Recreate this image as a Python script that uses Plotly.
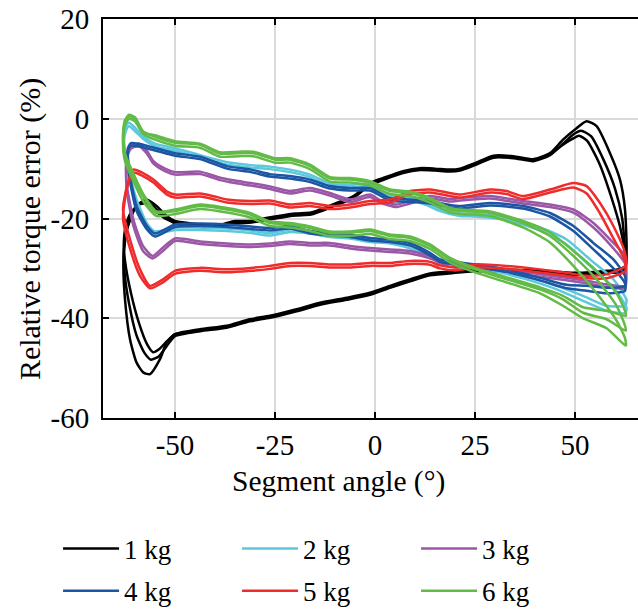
import plotly.graph_objects as go

# ---------------- data ----------------
masses = ["1 kg", "2 kg", "3 kg", "4 kg", "5 kg", "6 kg"]
colors = ["#000000", "#5BC8DC", "#9B57A6", "#1B55A3", "#EF2B2B", "#62BB46"]

x_ticks = [-50, -25, 0, 25, 50]
x_ticktext = ["-50", "-25", "0", "25", "50"]
y_ticks = [-60, -40, -20, 0, 20]
y_ticktext = ["-60", "-40", "-20", "0", "20"]

# 1 kg, three cycles (closed loops)
x_1kg_c1 = [-62.5, -61.2, -59.6, -57.1, -54.6, -52.1, -50, -46, -42, -38.75, -35, -31, -28, -25, -20, -16, -13.75, -10, -5.4, -1.25,
            2, 7, 11.25, 15, 18.75, 21.25, 25, 29.6, 34.6, 39.6, 43.75, 47, 50.4, 52.9, 55.4, 58.75, 61.25, 62.5, 62.9, 62.5,
            57.9, 50.4, 41.25, 32.9, 25, 20, 13.75, 8.75, 3.75, -1.25, -7.1, -13.75, -19.6, -26.25, -31.25, -37.1, -43.75, -50, -52.1, -53.75,
            -56.25, -57.9, -59.6, -61.25, -62.5, -62.9, -62.5]
y_1kg_c1 = [-24, -20.2, -17.5, -16.2, -17.5, -19.5, -20.5, -21, -21.3, -21.2, -20.5, -20.5, -20, -19.6, -19, -18.8, -18.2, -17, -15.5, -12.9,
            -11.9, -10.5, -9.9, -10, -10.2, -10, -8.9, -7.4, -7.5, -8.1, -6.9, -4.2, -1.9, -0.5, -1.5, -6.9, -12.2, -18.2, -26.2, -30.2,
            -30.5, -30.9, -30.5, -30.2, -30.2, -30.5, -31, -32.2, -33.5, -34.9, -35.9, -36.9, -38.2, -39.5, -40.2, -41.5, -42.2, -43.2, -44.9, -48.2,
            -51.2, -50.9, -48.9, -44.2, -36.2, -29.5, -24]
x_1kg_c2 = [-62.8, -62, -60.5, -58.5, -56, -53.5, -50, -46, -42, -38.75, -35, -31, -28, -25, -20, -16, -13.75, -10, -5.4, -1.25,
            2, 7, 11.25, 15, 18.75, 21.25, 25, 29.6, 34.6, 39.6, 43.75, 47, 49.5, 51.5, 54, 57, 60, 61.8, 62.5, 62.3,
            57.9, 50.4, 41.25, 32.9, 25, 20, 13.75, 8.75, 3.75, -1.25, -7.1, -13.75, -19.6, -26.25, -31.25, -37.1, -43.75, -50, -52, -54,
            -56, -57.6, -59.6, -61.5, -62.6, -62.8]
y_1kg_c2 = [-27, -22, -18.5, -16.8, -17.2, -19, -21, -21.5, -21.8, -21.6, -21, -20.8, -20.4, -20, -19.4, -19.2, -18.6, -17.4, -15.9, -13.3,
            -12.3, -10.9, -10.3, -10.4, -10.6, -10.4, -9.3, -7.8, -7.9, -8.5, -7.3, -5, -3.2, -2.4, -3.5, -8, -14, -20, -27, -30.6,
            -30.9, -31.3, -30.9, -30.6, -30.6, -30.9, -31.4, -32.6, -33.9, -35.3, -36.3, -37.3, -38.6, -39.9, -40.6, -41.9, -42.6, -43.6, -45.5, -47.6,
            -48.3, -47, -43.5, -37, -31, -27]
x_1kg_c3 = [-62.8, -62.3, -61, -59, -57, -55, -52.5, -50, -46, -42, -38.75, -35, -31, -28, -25, -20, -16, -13.75, -10, -5.4,
            -1.25, 2, 7, 11.25, 15, 18.75, 21.25, 25, 29.6, 34.6, 39.6, 43.75, 47, 49, 51, 53, 56, 59, 61.5, 62.6,
            57.9, 50.4, 41.25, 32.9, 25, 20, 13.75, 8.75, 3.75, -1.25, -7.1, -13.75, -19.6, -26.25, -31.25, -37.1, -43.75, -50, -52, -54,
            -55.5, -57, -59, -61, -62.5, -62.8]
y_1kg_c3 = [-25, -21.5, -18.8, -17.2, -17, -18.4, -20, -20.8, -21.2, -21.5, -21.4, -20.8, -20.7, -20.3, -19.9, -19.3, -19, -18.4, -17.2, -15.7,
            -13.1, -12.1, -10.7, -10.1, -10.2, -10.4, -10.2, -9.1, -7.6, -7.7, -8.3, -7.1, -5.2, -4.2, -3.4, -4.4, -8.8, -15.5, -22.5, -29.5,
            -30.7, -31.1, -30.7, -30.4, -30.4, -30.7, -31.2, -32.4, -33.7, -35.1, -36.1, -37.1, -38.4, -39.7, -40.4, -41.7, -42.4, -43.2, -44.6, -46.2,
            -46.8, -45.2, -41, -35, -28.5, -25]

# 2 kg
x_2kg_up = [-62.8, -62.3, -61.5, -60, -58, -55, -50, -43.75, -37, -31, -26.25, -21.25, -16.25, -11.25, -6.25, -1.25, 3.75, 8.75, 12.9, 16.25,
            21.25, 25, 32.9, 41.25, 47.9, 53.75, 59.6, 62.9]
x_2kg_lo = [62.5, 57.9, 52, 45.4, 37, 28.75, 21.25, 16.25, 13.75, 8.75, 3.75, -1.25, -6.25, -11.25, -16.25, -21.25, -26.25, -31, -37, -43.75,
            -50, -55, -57, -59.6, -61.7, -62.8]
y_2kg_up_c1 = [-4, -1.5, -0.8, -1.8, -3.5, -5, -5.9, -7.3, -8.7, -9.3, -9.6, -10.2, -11.2, -13, -13.3, -13, -15.3, -15.8, -16.8, -18,
               -19, -19.1, -19.8, -21.8, -24.2, -28.2, -32.2, -36.4]
y_2kg_lo_c1 = [-37.5, -37.5, -35.5, -33.5, -31.5, -29.9, -28.9, -28.2, -27.5, -25.5, -24.5, -24.2, -23.5, -23.2, -22.5, -22.2, -22.9, -22.4, -22, -21.8,
               -21.8, -22.6, -21, -16.2, -9.5, -4]
y_2kg_up_c2 = [-5, -2.5, -1.5, -2.5, -4, -5.5, -6.4, -7.8, -9.2, -9.8, -10.1, -10.7, -11.7, -13.5, -13.8, -13.5, -15.8, -16.3, -17.3, -18.5,
               -19.5, -19.6, -20.3, -22.4, -25.2, -29.5, -33.8, -38]
y_2kg_lo_c2 = [-39, -38.5, -36.5, -34.2, -32, -30.4, -29.4, -28.7, -28, -26, -25, -24.7, -24, -23.7, -23, -22.7, -23.4, -22.9, -22.5, -22.3,
               -22.3, -23, -21.8, -17.5, -11, -5]

# 3 kg
x_3kg_up = [-62.1, -61, -59, -57, -55.4, -52.5, -50, -43.75, -38.75, -35, -31, -26.25, -21.25, -16.25, -11.25, -6.25, -1.25, 1.25, 5.4, 8.75,
            13.75, 18.75, 21.25, 28.75, 37, 43.75, 49.6, 54.6, 59.6, 62.5]
x_3kg_lo = [62.8, 62.5, 57.9, 52.9, 47.9, 41.25, 32.9, 25, 18.75, 13.75, 8.75, 3.75, -1.25, -6.25, -11.25, -16.25, -21.25, -26.25, -31, -37,
            -43.75, -50, -53, -55.6, -58, -60.4, -62.1, -62.1]
y_3kg_up_c1 = [-7.5, -5.5, -5, -6.5, -8.5, -10, -10.7, -10.6, -11.8, -12.4, -12.9, -13.6, -14.5, -13.9, -14.9, -16.2, -15.2, -16.3, -17.2, -16.5,
               -15.5, -16.1, -15.9, -15.5, -16.5, -17.2, -18.2, -20.9, -24.9, -27.5]
y_3kg_lo_c1 = [-31, -33.5, -33.2, -32.5, -31.9, -31.2, -30.2, -29.2, -29.2, -27.5, -26.5, -26.2, -25.9, -25.5, -24.9, -24.9, -24.6, -25, -25.2, -25,
               -24.6, -24, -25.8, -27.5, -25.5, -20.2, -12.9, -7.5]
y_3kg_up_c2 = [-8, -6, -5.5, -7, -9, -10.5, -11.2, -11.1, -12.3, -12.9, -13.4, -14.1, -15, -14.4, -15.4, -16.7, -15.7, -16.8, -17.7, -17,
               -16, -16.6, -16.4, -16, -17, -17.7, -18.8, -21.8, -26, -29]
y_3kg_lo_c2 = [-32, -34, -33.7, -33, -32.4, -31.7, -30.7, -29.7, -29.7, -28, -27, -26.7, -26.4, -26, -25.4, -25.4, -25.1, -25.5, -25.7, -25.5,
               -25.1, -24.5, -26.5, -28, -26.5, -21.5, -14, -8]

# 4 kg
x_4kg_up = [-61.8, -61, -58, -56.25, -50, -43.75, -37, -31, -26.25, -21.25, -16.25, -11.25, -6.25, -1.25, 3.75, 8.75, 13.75, 18.75, 21.25, 28.75,
            37, 43.75, 49.6, 54.6, 59.6, 62.5]
x_4kg_lo = [62.5, 57.9, 52.9, 47.9, 41.25, 32.9, 25, 16.25, 13.75, 8.75, 3.75, -1.25, -6.25, -11.25, -16.25, -21.25, -26.25, -31, -37, -43.75,
            -50, -55, -57, -59.6, -61.25, -61.8]
y_4kg_up_c1 = [-6, -4.9, -5.2, -5.6, -6.9, -7.6, -9.5, -10.2, -11.1, -11.5, -12.2, -13.5, -13.9, -13.9, -15.9, -16.2, -16.5, -17.3, -17.5, -16.9,
               -17.5, -18.9, -21.5, -24.9, -28.2, -31.5]
y_4kg_lo_c1 = [-33.5, -33.9, -33.5, -33.3, -31.9, -30.2, -29.2, -28.2, -26.9, -24.9, -24.2, -23.9, -23.2, -22.9, -22.5, -21.5, -21.9, -21.6, -21.2, -21,
               -21.2, -23, -21.5, -17.5, -11.5, -6]
y_4kg_up_c2 = [-6.5, -5.4, -5.7, -6.1, -7.4, -8.1, -10, -10.7, -11.6, -12, -12.7, -14, -14.4, -14.4, -16.4, -16.7, -17, -17.8, -18, -17.4,
               -18, -19.6, -22.5, -26.2, -30, -33]
y_4kg_lo_c2 = [-34.5, -35, -34.5, -34, -32.4, -30.7, -29.7, -28.7, -27.4, -25.4, -24.7, -24.4, -23.7, -23.4, -23, -22, -22.4, -22.1, -21.7, -21.5,
               -21.7, -23.6, -22.2, -18.5, -12.5, -6.5]

# 5 kg
x_5kg_up = [-62, -60.4, -58, -55.4, -52, -50, -43.75, -40, -37, -31, -26.25, -21.25, -16.25, -11.25, -6.25, -1.25, 3.75, 8.75, 13.75, 18.75,
            21.25, 28.75, 32.9, 37, 43.75, 49.6, 52.9, 56.25, 59.6, 62.5]
x_5kg_lo = [62.6, 57.9, 52.9, 47.9, 41.25, 32.9, 25, 20.4, 16.25, 13.75, 8.75, 3.75, -1.25, -6.25, -11.25, -16.25, -21.25, -26.25, -31, -37,
            -43.75, -50, -53, -56.25, -58.75, -61.25, -63, -62]
y_5kg_up_c1 = [-13.5, -10.2, -10.9, -12.2, -14.6, -15.2, -15, -15.6, -16.2, -16.5, -16.4, -17.2, -16.9, -17.5, -17.2, -16.5, -16.2, -14.5, -14.2, -14.9,
               -15.2, -14.2, -14.5, -15.5, -14.2, -12.9, -13.5, -16.9, -21.5, -26.9]
y_5kg_lo_c1 = [-29.5, -31.2, -31.5, -30.9, -30.2, -29.5, -29.2, -29.8, -29.4, -28.7, -28.5, -28.9, -28.9, -29.2, -29.2, -28.9, -28.9, -29.5, -29.9, -30.2,
               -29.9, -30.5, -32.2, -33.5, -30.2, -24.2, -18.2, -13.5]
y_5kg_up_c2 = [-14, -10.8, -11.5, -12.8, -15.2, -15.8, -15.6, -16.2, -16.8, -17.1, -17, -17.8, -17.5, -18.1, -17.8, -17.1, -16.8, -15.1, -14.8, -15.5,
               -15.8, -14.8, -15.1, -16.1, -14.8, -13.8, -15, -19, -24, -28.5]
y_5kg_lo_c2 = [-30.5, -32, -32, -31.5, -30.8, -30.1, -29.8, -30.4, -30, -29.3, -29.1, -29.5, -29.5, -29.8, -29.8, -29.5, -29.5, -30.1, -30.5, -30.8,
               -30.5, -31.1, -32.8, -34, -31.5, -26, -20, -14]

# 6 kg
x_6kg_up = [-63, -62.6, -61.5, -60, -58, -55, -50, -43.75, -38.75, -34, -30.4, -25, -21.25, -16.25, -11.25, -6.25, -1.25, 3.75, 8.75, 13.75,
            18.75, 21.25, 28.75, 37, 43.75, 49.6, 55.4, 60.4, 62.5]
x_6kg_lo = [62.7, 57.9, 52, 47, 41.25, 32.9, 25, 18.75, 13.75, 8.75, 3.75, -1.25, -6.25, -11.25, -16.25, -21.25, -26.25, -31.25, -37, -43.75,
            -50, -54.6, -58, -60.4, -62.5, -63]
y_6kg_up_c1 = [-4, -0.5, 0.8, 0.3, -2.5, -3.6, -4.8, -5.2, -7, -6.9, -6.9, -8.2, -8.2, -9.5, -12, -12.2, -12.8, -14.5, -14.9, -16.2,
               -18.2, -18.5, -18.9, -20.9, -23.5, -27.5, -32.2, -37.5, -41.5]
y_6kg_lo_c1 = [-42.5, -40.2, -38.9, -36.2, -34.2, -32.2, -30.2, -28.2, -25.5, -23.9, -23.5, -22.5, -22.9, -22.9, -21.9, -21.2, -20.9, -19.2, -18.2, -17.5,
               -18.5, -18.9, -15.5, -11.5, -7.5, -4]
y_6kg_up_c2 = [-5, -1.5, 0, -0.5, -3, -4.2, -5.4, -5.8, -7.6, -7.5, -7.5, -8.8, -8.8, -10.1, -12.6, -12.8, -13.4, -15.1, -15.5, -16.8,
               -18.8, -19.1, -19.5, -21.8, -24.8, -29.5, -35, -40.5, -44]
y_6kg_lo_c2 = [-45.5, -42, -40, -37.5, -35, -32.8, -30.8, -28.8, -26.1, -24.5, -24.1, -23.1, -23.5, -23.5, -22.5, -21.8, -21.5, -19.8, -18.8, -18.1,
               -19.1, -19.5, -16.5, -12.5, -8.5, -5]
y_6kg_up_c3 = [-3.5, -1, 0.5, 0, -2.8, -3.3, -4.5, -5, -6.7, -6.6, -6.6, -7.9, -7.9, -9.2, -11.7, -11.9, -12.5, -14.2, -14.6, -15.9,
               -17.9, -18.2, -18.6, -20.5, -22.8, -26.5, -30.5, -35, -38.5]
y_6kg_lo_c3 = [-39.5, -38.5, -37.8, -35.5, -33.8, -31.8, -29.9, -27.9, -25.2, -23.6, -23.2, -22.2, -22.6, -22.6, -21.6, -20.9, -20.6, -18.9, -17.9, -17.2,
               -18.2, -18.6, -15, -11, -7, -3.5]

# ---------------- assemble cycles ----------------
cycles = {
    0: [(x_1kg_c1, y_1kg_c1), (x_1kg_c2, y_1kg_c2), (x_1kg_c3, y_1kg_c3)],
    1: [(x_2kg_up + x_2kg_lo, y_2kg_up_c1 + y_2kg_lo_c1), (x_2kg_up + x_2kg_lo, y_2kg_up_c2 + y_2kg_lo_c2)],
    2: [(x_3kg_up + x_3kg_lo, y_3kg_up_c1 + y_3kg_lo_c1), (x_3kg_up + x_3kg_lo, y_3kg_up_c2 + y_3kg_lo_c2)],
    3: [(x_4kg_up + x_4kg_lo, y_4kg_up_c1 + y_4kg_lo_c1), (x_4kg_up + x_4kg_lo, y_4kg_up_c2 + y_4kg_lo_c2)],
    4: [(x_5kg_up + x_5kg_lo, y_5kg_up_c1 + y_5kg_lo_c1), (x_5kg_up + x_5kg_lo, y_5kg_up_c2 + y_5kg_lo_c2)],
    5: [(x_6kg_up + x_6kg_lo, y_6kg_up_c1 + y_6kg_lo_c1), (x_6kg_up + x_6kg_lo, y_6kg_up_c2 + y_6kg_lo_c2),
        (x_6kg_up + x_6kg_lo, y_6kg_up_c3 + y_6kg_lo_c3)],
}

FONT = "Liberation Serif"
fig = go.Figure()
for i, name in enumerate(masses):
    legend_id = "legend" if i < 3 else "legend2"
    for j, (xs, ys) in enumerate(cycles[i]):
        fig.add_trace(go.Scatter(
            x=xs, y=ys, mode="lines", name=name, legendgroup=name,
            showlegend=(j == 0), legend=legend_id,
            line=dict(color=colors[i], width=2.5, shape="spline", smoothing=0.6),
        ))

legend_common = dict(orientation="h", x=-0.084, xanchor="left", yanchor="middle",
                     entrywidth=108, entrywidthmode="pixels", itemwidth=56,
                     font=dict(family=FONT, size=27, color="black"),
                     bgcolor="rgba(0,0,0,0)", traceorder="normal")

fig.update_layout(
    width=638, height=610,
    margin=dict(l=103, r=0, t=19, b=192, autoexpand=False),
    paper_bgcolor="white", plot_bgcolor="white",
    font=dict(family=FONT, size=29, color="black"),
    showlegend=True,
    legend=dict(y=-0.328, **legend_common),
    legend2=dict(y=-0.434, **legend_common),
    annotations=[
        dict(text="Segment angle (°)", xref="paper", yref="paper", x=0.441, y=-0.158,
             xanchor="center", yanchor="middle", showarrow=False, font=dict(family=FONT, size=29.5)),
        dict(text="Relative torque error (%)", xref="paper", yref="paper", x=-0.136, y=0.474,
             xanchor="center", yanchor="middle", textangle=-90, showarrow=False, font=dict(family=FONT, size=30)),
    ],
)
fig.update_xaxes(range=[-68, 65.75], tickvals=x_ticks, ticktext=x_ticktext,
                 showgrid=True, gridcolor="#d9d9d9", gridwidth=1.5, zeroline=False,
                 showline=True, linecolor="black", linewidth=2, mirror="ticks",
                 ticks="inside", ticklen=6, tickwidth=2, tickcolor="black",
                 tickfont=dict(family=FONT, size=29, color="black"))
fig.update_yaxes(range=[-60, 20], tickvals=y_ticks, ticktext=y_ticktext,
                 showgrid=True, gridcolor="#d9d9d9", gridwidth=1.5, zeroline=False,
                 showline=True, linecolor="black", linewidth=2, mirror=False,
                 ticks="inside", ticklen=6, tickwidth=2, tickcolor="black",
                 ticklabelstandoff=6,
                 tickfont=dict(family=FONT, size=29, color="black"))

fig.write_html("out.html")
